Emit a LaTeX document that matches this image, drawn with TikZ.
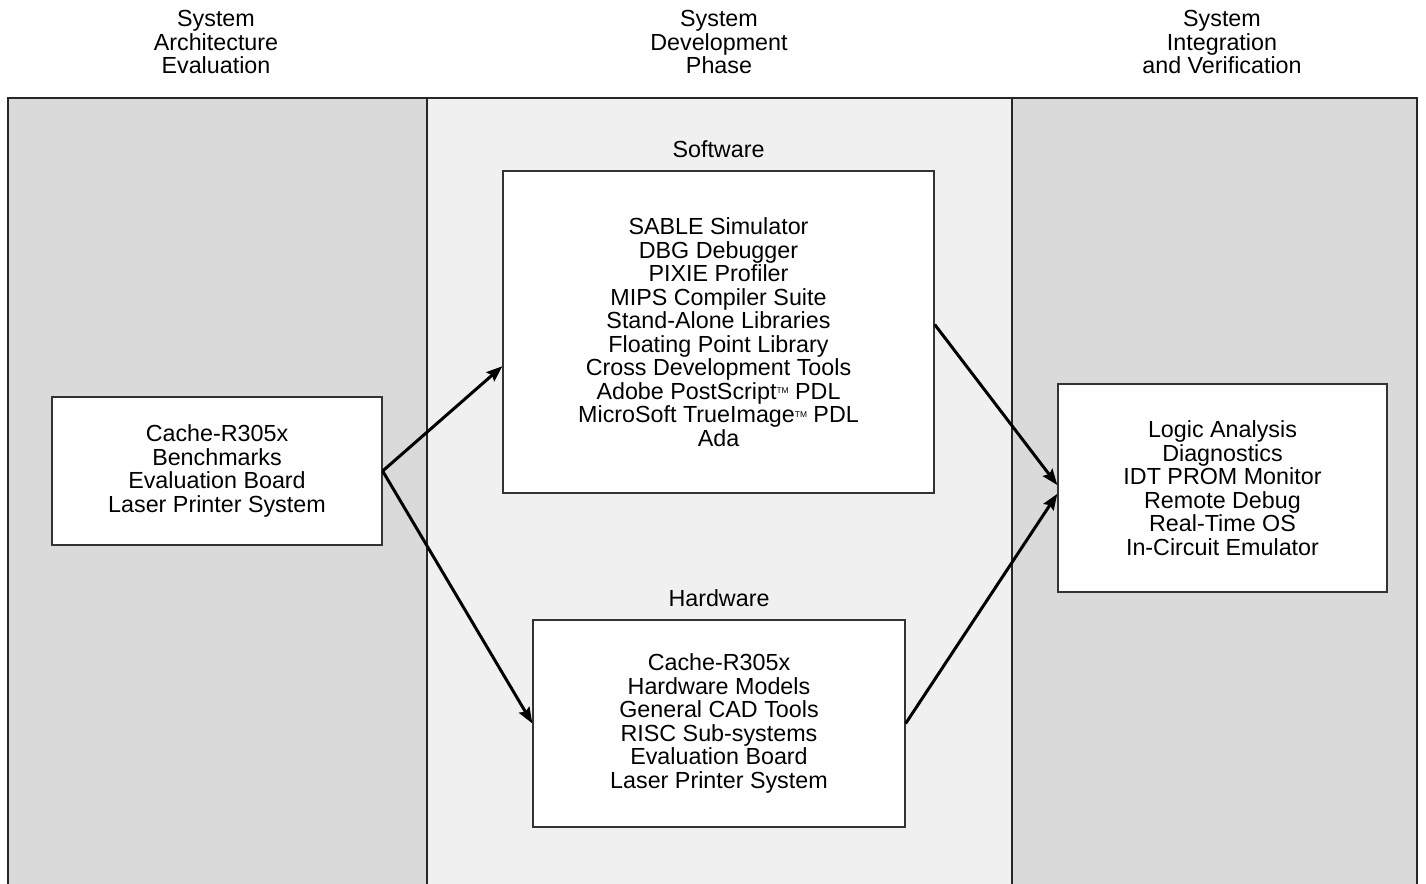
\documentclass[tikz,border=0pt]{standalone}
\usepackage{fontspec}
\setmainfont{Liberation Sans}
\usetikzlibrary{positioning,arrows.meta}
\definecolor{panelgray}{HTML}{DADADA}
\definecolor{midgray}{HTML}{F0F0F0}
\definecolor{edgegray}{HTML}{333333}
\newcommand{\tmark}{\raisebox{2.6pt}{\fontsize{4.2}{4.2}\selectfont TM}}

\begin{document}
\begin{tikzpicture}[x=0.5pt, y=-0.5pt,
    every node/.style={font=\fontsize{11.65}{11.75}\selectfont, align=center},
    toolbox/.style={draw=edgegray, line width=0.65pt, fill=white},
    heading/.style={inner sep=0pt},
    flow/.style={line width=1.5pt, -{Stealth[length=8pt,width=6pt,inset=1.2pt]}}]
  \useasboundingbox (0,0) rectangle (1426,884);
  \fill[panelgray] (8,98) rectangle (427,884);
  \fill[midgray] (427,98) rectangle (1012,884);
  \fill[panelgray] (1012,98) rectangle (1417,884);
  \draw[line width=0.8pt, draw=black!85] (8,884) |- (1417,98) -- (1417,884);
  \draw[line width=0.8pt, draw=black!85] (427,98) -- (427,884) (1012,98) -- (1012,884);

  \node (archhead) at (216,42) {System\\Architecture\\Evaluation};
  \node (develhead) at (719,42) {System\\Development\\Phase};
  \node (integhead) at (1222,42) {System\\Integration\\and Verification};

  \node[toolbox, minimum width=165pt, minimum height=74pt] (eval) at (217,471)
    {Cache-R305x\\Benchmarks\\Evaluation Board\\Laser Printer System};
  \node[toolbox, minimum width=215.5pt, minimum height=161pt] (soft) at (718.5,332)
    {SABLE Simulator\\DBG Debugger\\PIXIE Profiler\\MIPS Compiler Suite\\
     Stand-Alone Libraries\\Floating Point Library\\Cross Development Tools\\
     Adobe PostScript\tmark{} PDL\\MicroSoft TrueImage\tmark{} PDL\\Ada};
  \node[heading, above=6pt of soft] (softlabel) {Software};
  \node[toolbox, minimum width=186pt, minimum height=103.5pt] (hard) at (719,723.5)
    {Cache-R305x\\Hardware Models\\General CAD Tools\\RISC Sub-systems\\
     Evaluation Board\\Laser Printer System};
  \node[heading, above=6pt of hard] (hardlabel) {Hardware};
  \node[toolbox, minimum width=164.5pt, minimum height=104pt] (integ) at (1222.5,488)
    {Logic Analysis\\Diagnostics\\IDT PROM Monitor\\Remote Debug\\
     Real-Time OS\\In-Circuit Emulator};

  \draw[flow] (eval.east) -- (soft.189);
  \draw[flow] (eval.east) -- (hard.west);
  \draw[flow] (soft.2.5) -- (integ.179);
  \draw[flow] (hard.east) -- (integ.182);
\end{tikzpicture}
\end{document}
